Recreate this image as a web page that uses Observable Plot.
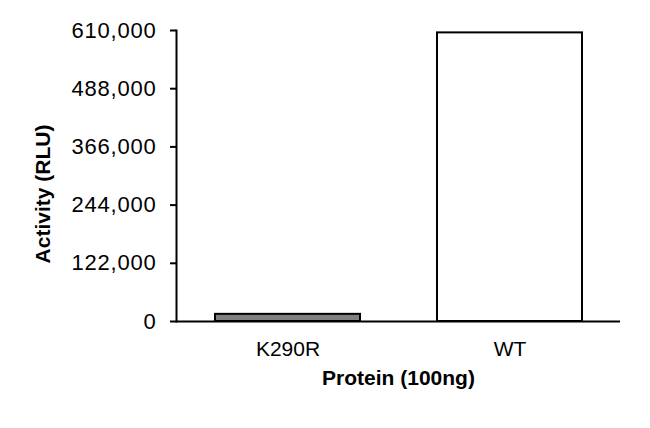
<!DOCTYPE html>
<html>
<head>
<meta charset="utf-8">
<script src="https://cdn.jsdelivr.net/npm/d3@7"></script>
<script src="https://cdn.jsdelivr.net/npm/@observablehq/plot@0.6"></script>
<style>
  html, body { margin: 0; padding: 0; background: #fff; }
  svg { font-family: "Liberation Sans", Arial, sans-serif; }
</style>
</head>
<body>
<div id="chart"></div>
<script>
const categories = ["K290R", "WT"];
const values = [15000, 605000];
const fills = ["#808080", "#ffffff"];
const yTicks = [0, 122000, 244000, 366000, 488000, 610000];
const xTitle = "Protein (100ng)";
const yTitle = "Activity (RLU)";

const data = categories.map((c, i) => ({protein: c, activity: values[i], fill: fills[i]}));

const chart = Plot.plot({
  width: 650,
  height: 428,
  marginLeft: 176,
  marginRight: 30,
  marginTop: 30,
  marginBottom: 107,
  style: {fontFamily: "'Liberation Sans', Arial, sans-serif", fontSize: "20px", color: "#000", background: "#fff"},
  x: {domain: categories, paddingInner: 0.347, paddingOuter: 0.1735},
  y: {domain: [0, 610000]},
  marks: [
    Plot.barY(data, {x: "protein", y: "activity", fill: d => d.fill, stroke: "#000", strokeWidth: 2}),
    Plot.ruleY([0], {stroke: "#000", strokeWidth: 2}),
    Plot.frame({anchor: "left", stroke: "#000", strokeWidth: 2}),
    Plot.axisY({ticks: yTicks, tickFormat: d3.format(","), tickSize: 6, tickPadding: 14, fontSize: 22,
      label: null, stroke: "#000", strokeWidth: 2}),
    Plot.axisX({tickSize: 0, tickPadding: 20, fontSize: 21, label: null}),
    Plot.text([yTitle], {frameAnchor: "left", textAnchor: "middle", lineAnchor: "middle", rotate: -90, dx: -133, dy: 18, fontSize: 21, fontWeight: "bold", fill: "#000"}),
    Plot.text([xTitle], {frameAnchor: "bottom", textAnchor: "middle", lineAnchor: "middle", dy: 57, fontSize: 21, fontWeight: "bold", fill: "#000"})
  ]
});
document.getElementById("chart").appendChild(chart);
chart.querySelectorAll("g[aria-label='y-axis tick label'] text").forEach(t => t.setAttribute("letter-spacing", "0.8"));
</script>
</body>
</html>
